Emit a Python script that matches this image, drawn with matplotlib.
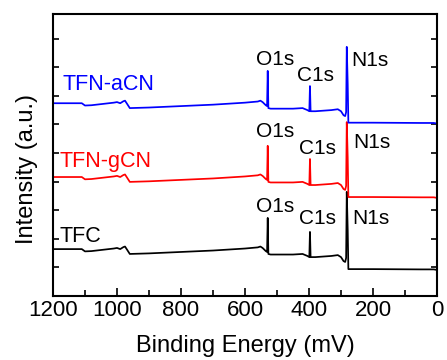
import matplotlib.pyplot as plt
from matplotlib.ticker import MultipleLocator

plt.rcParams['font.family'] = ['Liberation Sans', 'DejaVu Sans']

# binding energy grid shared by all three survey spectra
energy = [1200, 1110, 1100, 1080, 1010, 1000, 990, 980, 975, 968, 960, 900, 800, 700,
          600, 560, 552, 545, 535, 531, 529, 527, 520, 450, 420, 405, 399, 397, 395,
          380, 330, 310, 300, 292, 287, 284, 282, 279, 277, 200, 50, 10, 0]

tfc = [1.64, 1.64, 1.56, 1.57, 1.66, 1.68, 1.64, 1.71, 1.73, 1.61, 1.47, 1.49, 1.54, 1.59,
       1.66, 1.70, 1.73, 1.68, 1.57, 1.54, 2.73, 1.47, 1.45, 1.45, 1.47, 1.40, 1.36, 2.24, 1.36,
       1.36, 1.40, 1.43, 1.36, 1.22, 1.19, 1.33, 3.64, 2.31, 0.94, 0.94, 0.93, 0.93, 0.91]

tfn_gcn = [4.16, 4.16, 4.08, 4.09, 4.18, 4.20, 4.16, 4.23, 4.25, 4.13, 3.99, 4.01, 4.06, 4.11,
           4.18, 4.22, 4.25, 4.20, 4.09, 4.06, 5.25, 3.99, 3.97, 3.97, 3.99, 3.92, 3.88, 4.79, 3.88,
           3.88, 3.92, 3.95, 3.88, 3.74, 3.71, 3.85, 6.08, 4.83, 3.46, 3.46, 3.45, 3.45, 3.43]

tfn_acn = [6.74, 6.74, 6.66, 6.67, 6.76, 6.78, 6.74, 6.81, 6.83, 6.71, 6.57, 6.59, 6.64, 6.69,
           6.76, 6.80, 6.83, 6.78, 6.67, 6.64, 7.87, 6.57, 6.55, 6.55, 6.57, 6.50, 6.46, 7.34, 6.46,
           6.46, 6.50, 6.53, 6.46, 6.32, 6.29, 6.43, 8.71, 7.41, 6.06, 6.06, 6.05, 6.05, 6.03]

series = [("TFC", tfc, "black"), ("TFN-gCN", tfn_gcn, "red"), ("TFN-aCN", tfn_acn, "blue")]

# sample name positions (x, y) and peak label positions
name_pos = {"TFC": (1179, 1.89), "TFN-gCN": (1179, 4.5), "TFN-aCN": (1170, 7.2)}
peak_pos = {
    "TFC": [("O1s", 565, 2.94), ("C1s", 432, 2.52), ("N1s", 265, 2.52)],
    "TFN-gCN": [("O1s", 565, 5.56), ("C1s", 432, 4.97), ("N1s", 262, 5.17)],
    "TFN-aCN": [("O1s", 565, 8.08), ("C1s", 437, 7.52), ("N1s", 268, 8.04)],
}

fig = plt.figure(figsize=(4.47, 3.6), dpi=100)
ax = fig.add_axes([53 / 447, 64 / 360, 384 / 447, 282 / 360])

for name, vals, color in series:
    ax.plot(energy, vals, color=color, linewidth=1.25)
    tx, ty = name_pos[name]
    ax.text(tx, ty, name, color=color, fontsize=15.5, ha="left", va="baseline")
    for lab, px, py in peak_pos[name]:
        ax.text(px, py, lab, color="black", fontsize=15, ha="left", va="baseline")

ax.set_xlim(1200, 0)
ax.set_ylim(0, 9.86)
ax.xaxis.set_major_locator(MultipleLocator(200))
ax.xaxis.set_minor_locator(MultipleLocator(100))
ax.yaxis.set_major_locator(MultipleLocator(1))
ax.tick_params(axis="x", which="major", direction="in", length=6, width=1.2, labelsize=16, pad=3)
ax.tick_params(axis="x", which="minor", direction="in", length=4, width=1.2)
ax.tick_params(axis="y", which="major", direction="in", length=4, width=1.2,
               left=True, right=True, labelleft=False)
for sp in ax.spines.values():
    sp.set_linewidth(1.5)

ax.set_xlabel("Binding Energy (mV)", fontsize=17, labelpad=10)
ax.set_ylabel("Intensity (a.u.)", fontsize=17)
ax.yaxis.set_label_coords(-0.04, 0.45)

fig.savefig("out.png", dpi=100)
